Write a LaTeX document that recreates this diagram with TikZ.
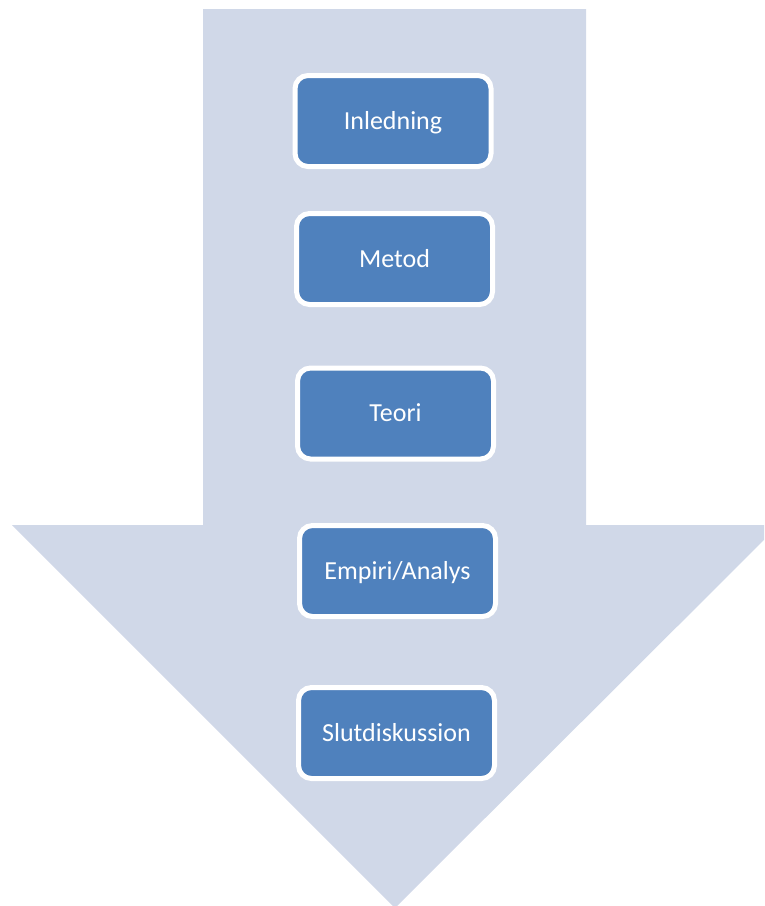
\documentclass[tikz,border=0pt]{standalone}
\usepackage{fontspec}
\setmainfont{Carlito}
\definecolor{arrowfill}{RGB}{208,216,232}
\definecolor{boxfill}{RGB}{79,129,189}
\begin{document}
\begin{tikzpicture}[x=1pt,y=-1pt,
  stepbox/.style={draw=white, line width=5pt, fill=boxfill, rounded corners=13pt,
    minimum width=196pt, minimum height=91pt, inner sep=0pt,
    text height=16pt, text depth=0pt,
    text=white, font=\fontsize{26}{30}\selectfont}]
\useasboundingbox (0,0) rectangle (764,906);
\begin{scope}
\clip (0,0) rectangle (764,906);
\fill[arrowfill] (203,9) -- (586,9) -- (586,525) -- (779,525) -- (395,908) -- (12,525) -- (203,525) -- cycle;
\end{scope}
\node[stepbox] (inl) at (393,121) {Inledning};
\node[stepbox] (met) at (394.5,259) {Metod};
\node[stepbox] (teo) at (395.5,413.5) {Teori};
\node[stepbox] (emp) at (397.5,571) {Empiri/Analys};
\node[stepbox] (slu) at (396.5,733) {Slutdiskussion};
\end{tikzpicture}
\end{document}
